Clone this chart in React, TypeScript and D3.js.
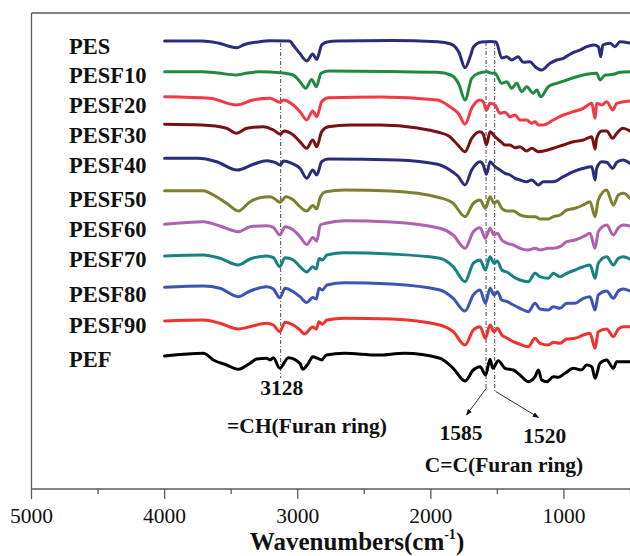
import React from "react";
import * as d3 from "d3";

// FTIR spectra of PES, PESF copolyesters and PEF, vertically offset for display.
// Each series: [wavenumber (cm-1), offset transmittance (a.u.)]
type Pt = [number, number];

const PES: Pt[] = [
  [4000, 448], [3720, 448], [3600, 446], [3460, 441.3], [3400, 444.5], [3300, 447], [3210, 448.3],
  [3060, 448], [3035, 444], [2985, 435.7], [2932, 428], [2887, 435], [2857, 429.5], [2820, 444],
  [2780, 447], [2700, 448], [2300, 448.5], [1950, 447.3], [1850, 445], [1790, 437], [1743, 421.3],
  [1700, 434], [1680, 442], [1620, 447], [1550, 447.5], [1510, 447], [1467, 431], [1430, 432.3],
  [1392, 429], [1345, 432.3], [1305, 426.7], [1255, 427.3], [1217, 422.3], [1167, 419], [1104, 425.7],
  [1054, 429], [1004, 430.7], [942, 435.7], [879, 439], [829, 442.3], [779, 444], [741, 442.3],
  [723, 432.3], [708, 444], [654, 445.7], [616, 442.3], [579, 447.3], [505, 446],
];

const PESF10: Pt[] = [
  [4000, 417.3], [3720, 417.3], [3600, 416], [3460, 414], [3380, 416], [3283, 417.3], [3133, 416.3],
  [3035, 414], [2983, 407.3], [2940, 400.7], [2895, 409.5], [2860, 402.3], [2825, 415.7], [2770, 418],
  [2300, 417.5], [1950, 416.7], [1850, 414], [1790, 405], [1743, 389], [1693, 410.7], [1643, 415.7],
  [1580, 417.3], [1550, 416], [1518, 415.7], [1467, 405.7], [1430, 407.3], [1392, 400.7], [1355, 405.7],
  [1317, 397.3], [1280, 402.3], [1230, 395.7], [1204, 399], [1174, 392.3], [1117, 402.3], [1054, 405.7],
  [979, 409], [904, 412.3], [829, 414.7], [754, 415.7], [729, 409], [690, 414], [629, 414.7],
  [579, 416.7], [505, 417.3],
];

const PESF20: Pt[] = [
  [4000, 392.3], [3660, 390.7], [3460, 384], [3336, 389], [3208, 390.7], [3133, 386.7], [3110, 389],
  [3033, 384], [2983, 377.3], [2932, 369], [2887, 378], [2857, 372.3], [2820, 387.3], [2770, 391.3],
  [2380, 392], [1950, 389], [1857, 382.3], [1790, 375], [1743, 364.7], [1693, 380.7], [1630, 389],
  [1606, 387.3], [1582, 379], [1555, 385.7], [1518, 384], [1480, 375.7], [1443, 376.7], [1405, 372.3],
  [1367, 374], [1330, 369], [1280, 369], [1242, 365.7], [1217, 367.3], [1192, 364], [1155, 364],
  [1080, 369], [1005, 374], [929, 377.3], [854, 380.7], [791, 385.7], [766, 370.7], [754, 385.7],
  [716, 384], [679, 387.3], [633, 379], [603, 385.7], [505, 388],
];

const PESF30: Pt[] = [
  [4000, 364.7], [3720, 364], [3534, 360.7], [3460, 355.7], [3383, 360.7], [3258, 362.3], [3183, 359],
  [3130, 354.7], [3103, 358], [3033, 354], [2983, 347.3], [2932, 340.7], [2887, 349], [2857, 342.3],
  [2820, 357.3], [2770, 362.3], [2607, 364], [2380, 364], [2100, 361], [1950, 357], [1857, 352.3],
  [1797, 344], [1743, 337.3], [1693, 350.7], [1630, 357.3], [1606, 354.7], [1582, 344], [1555, 357.3],
  [1518, 352.3], [1480, 348], [1443, 344], [1405, 344], [1367, 341.3], [1330, 342.3], [1280, 338],
  [1242, 340.7], [1192, 337.3], [1155, 338], [1080, 340.7], [1005, 344], [929, 347.3], [854, 349],
  [791, 352.3], [766, 340], [754, 350.7], [716, 358], [679, 358], [633, 350.7], [603, 355.7],
  [556, 360.7], [505, 358],
];

const PESF40: Pt[] = [
  [4000, 330.7], [3750, 330.7], [3609, 327.3], [3455, 319], [3333, 324.7], [3233, 328.3], [3171, 326.7],
  [3130, 324], [3108, 328], [3045, 325.7], [2983, 320.7], [2932, 310.7], [2887, 319], [2857, 314],
  [2820, 327.3], [2770, 330], [2250, 329], [1950, 324.7], [1857, 319], [1797, 313], [1743, 304],
  [1693, 319], [1630, 327.3], [1606, 324], [1582, 314.7], [1555, 327.3], [1518, 322.3], [1480, 319],
  [1443, 315.7], [1405, 314], [1367, 310.7], [1330, 309], [1280, 307.3], [1242, 309], [1192, 304],
  [1155, 307.3], [1080, 307.3], [1005, 312.3], [929, 317.3], [854, 320.7], [791, 322.3], [766, 309],
  [754, 320.7], [716, 327.3], [679, 326.7], [633, 320.7], [603, 326.7], [556, 329], [505, 325.7],
];

const PESF50: Pt[] = [
  [4000, 298.3], [3709, 298.3], [3634, 294], [3534, 285.7], [3446, 278], [3358, 287.3], [3283, 291.3],
  [3208, 292.3], [3171, 290], [3135, 286.7], [3088, 292.3], [3033, 289], [2983, 282.3], [2932, 278],
  [2887, 283.5], [2857, 280], [2830, 292], [2790, 297.3], [2650, 299], [2300, 298], [1932, 291.3],
  [1832, 285.7], [1743, 272.3], [1681, 285.7], [1630, 289], [1590, 280.7], [1555, 292.3], [1525, 285.7],
  [1500, 288], [1467, 280.7], [1425, 278], [1380, 278], [1330, 274], [1268, 272.3], [1217, 272.3],
  [1180, 270], [1117, 270], [1080, 272.3], [1030, 274], [979, 279], [917, 280.7], [854, 284],
  [804, 287.3], [766, 272.3], [742, 289], [679, 299], [629, 284], [591, 294], [554, 295.7], [505, 290.7],
];

const PESF60: Pt[] = [
  [4000, 264.7], [3709, 267.3], [3584, 263], [3446, 257.3], [3358, 262.3], [3233, 263.3], [3183, 261.7],
  [3135, 254], [3095, 262.3], [3033, 259], [2983, 252.3], [2932, 244.5], [2887, 251.5], [2857, 248],
  [2830, 264], [2790, 265.7], [2650, 268.3], [2300, 267], [1932, 260.7], [1832, 254], [1743, 240.7],
  [1681, 257.3], [1630, 261.3], [1590, 250.7], [1555, 260.7], [1525, 254], [1500, 255.7], [1467, 249],
  [1425, 245.7], [1380, 244], [1330, 240.7], [1268, 239], [1217, 240.7], [1180, 239], [1117, 240.7],
  [1080, 240.7], [1030, 242.3], [979, 247.3], [917, 249], [854, 252.3], [804, 255.7], [766, 240.7],
  [742, 257.3], [679, 264], [629, 254], [591, 261.3], [554, 264], [505, 263],
];

const PESF70: Pt[] = [
  [4000, 233], [3709, 234], [3584, 230.7], [3446, 224], [3358, 230], [3233, 233], [3183, 231.3],
  [3135, 222.3], [3095, 231.3], [3033, 229], [2983, 222.3], [2932, 217], [2887, 222.3], [2860, 220],
  [2840, 230.5], [2815, 229], [2780, 234], [2650, 236.3], [2300, 235], [1932, 230.7], [1832, 222.3],
  [1743, 207.3], [1681, 225.7], [1630, 229], [1590, 219], [1555, 232.3], [1525, 225.7], [1500, 228],
  [1467, 219], [1425, 216.7], [1380, 212.3], [1330, 209], [1268, 207.3], [1217, 215.7], [1180, 212.3],
  [1117, 210.7], [1080, 215.7], [1030, 212.3], [979, 215.7], [917, 219], [854, 222.3], [804, 224],
  [766, 210.7], [742, 225.7], [679, 232.3], [629, 224], [591, 230.7], [554, 232.3], [505, 230],
];

const PESF80: Pt[] = [
  [4000, 201.7], [3709, 203], [3584, 200.7], [3446, 192.3], [3358, 198], [3233, 202.3], [3183, 200],
  [3135, 191.3], [3095, 200.7], [3033, 197.3], [2983, 192.3], [2932, 186.5], [2887, 191.5], [2860, 190],
  [2840, 200.7], [2815, 199], [2780, 204], [2650, 206.3], [2300, 205], [1932, 199], [1832, 190.7],
  [1743, 178], [1681, 194], [1630, 199], [1590, 185.7], [1555, 200.7], [1525, 194], [1500, 197.3],
  [1467, 189], [1425, 187.3], [1380, 184], [1330, 180.7], [1268, 177.3], [1217, 185.7], [1180, 180],
  [1117, 179], [1080, 182.3], [1030, 180.7], [979, 185.7], [917, 185.7], [854, 190.7], [804, 192.3],
  [766, 179], [742, 194], [679, 198], [629, 190.7], [591, 198], [554, 200], [505, 198],
];

const PESF90: Pt[] = [
  [4000, 168], [3709, 169], [3584, 165.7], [3446, 160], [3358, 162.3], [3233, 165.7], [3183, 164],
  [3135, 157.3], [3095, 166.7], [3033, 164], [2983, 159], [2950, 155], [2887, 162], [2860, 160],
  [2840, 167.3], [2815, 164.7], [2780, 169], [2650, 170.7], [2300, 170], [1932, 164], [1832, 157.3],
  [1743, 144], [1681, 159], [1630, 162.3], [1590, 150.7], [1555, 164], [1525, 157.3], [1500, 160.7],
  [1467, 154], [1425, 150.7], [1380, 147.3], [1330, 144.7], [1268, 142.3], [1217, 150.7], [1180, 145.7],
  [1117, 144], [1080, 146.7], [1030, 145.7], [979, 150], [917, 150.7], [854, 154], [804, 155.7],
  [766, 140.7], [742, 157.3], [679, 160], [629, 152.3], [591, 160], [554, 162.3], [505, 162.3],
];

const PEF: Pt[] = [
  [4000, 133], [3709, 135.7], [3634, 129], [3534, 124], [3446, 119.7], [3358, 125.7], [3308, 130],
  [3233, 130.7], [3208, 129], [3183, 131.3], [3135, 120.7], [3070, 131.3], [2983, 125.7], [2962, 119.7],
  [2920, 125.7], [2887, 132.3], [2850, 130.7], [2820, 129], [2785, 134], [2650, 135.7], [2400, 134],
  [2200, 135.7], [1932, 130.7], [1832, 120.7], [1743, 108], [1681, 119], [1630, 122.3], [1588, 114],
  [1555, 129.7], [1535, 120.7], [1493, 128.3], [1443, 120.7], [1380, 119], [1330, 114], [1268, 107.3],
  [1217, 112.3], [1192, 119], [1167, 109], [1129, 107.3], [1080, 112.3], [1042, 111.7], [992, 115.7],
  [929, 120.7], [869, 119], [829, 124], [791, 122.3], [766, 110.7], [729, 125.7], [679, 129],
  [629, 120.7], [603, 127.3], [505, 127.3],
];

const seriesData: Pt[][] = [PES, PESF10, PESF20, PESF30, PESF40, PESF50, PESF60, PESF70, PESF80, PESF90, PEF];
const seriesNames = ["PES", "PESF10", "PESF20", "PESF30", "PESF40", "PESF50", "PESF60", "PESF70", "PESF80", "PESF90", "PEF"];
const seriesColors = ["#2c2c7c", "#1f8a40", "#f23a44", "#7a1014", "#2c2c7c", "#7e7f30", "#b060b0", "#188282", "#3a55b4", "#f0322c", "#000000"];
// Offset transmittance level beside which each name is printed
const labelLevels = [435, 406.3, 376, 346.3, 315.7, 282.3, 252, 222.3, 187.3, 156.3, 122.3];

const majorTicks = [5000, 4000, 3000, 2000, 1000];
const minorTicks = [4500, 3500, 2500, 1500, 500];
const markerWavenumbers = [3128, 1585, 1520];

const W = 630;
const H = 556;

export default function App() {
  const x = d3.scaleLinear().domain([5000, 400]).range([31.5, 643.8]);
  const y = d3.scaleLinear().domain([0, 476]).range([489, 13]);
  const line = d3
    .line<Pt>()
    .x((d) => x(d[0]))
    .y((d) => y(d[1]))
    .curve(d3.curveMonotoneX);

  const serif = "'Liberation Serif', 'Times New Roman', serif";
  const frame = "#5a5a5a";
  const left = x(5000);
  const top = y(476);
  const bottom = y(0);

  return (
    <svg
      width={W}
      height={H}
      viewBox={`0 0 ${W} ${H}`}
      style={{ position: "absolute", left: 0, top: 0, background: "#fff" }}
      fontFamily={serif}
    >
      <defs>
        <marker id="arrowHead" viewBox="0 0 10 10" refX="9" refY="5" markerWidth="7" markerHeight="7" orient="auto-start-reverse">
          <path d="M0,1 L10,5 L0,9 z" fill="#111" />
        </marker>
      </defs>

      {/* frame */}
      <line x1={left} x2={W} y1={top} y2={top} stroke={frame} strokeWidth={1.3} />
      <line x1={left} x2={left} y1={top} y2={bottom} stroke={frame} strokeWidth={1.3} />
      <line x1={left} x2={W} y1={bottom} y2={bottom} stroke={frame} strokeWidth={1.3} />

      {/* ticks */}
      {majorTicks.map((t) => (
        <g key={"M" + t}>
          <line x1={x(t)} x2={x(t)} y1={bottom} y2={bottom + 10} stroke={frame} strokeWidth={1.3} />
          <text x={x(t)} y={523} fontSize={21.5} textAnchor="middle" fill="#111">
            {t}
          </text>
        </g>
      ))}
      {minorTicks.map((t) => (
        <line key={"m" + t} x1={x(t)} x2={x(t)} y1={bottom} y2={bottom + 5} stroke={frame} strokeWidth={1.3} />
      ))}

      <text x={357} y={550} fontSize={25} fontWeight="bold" textAnchor="middle" fill="#111">
        Wavenumbers(cm
        <tspan fontSize={14} dy={-11}>-1</tspan>
        <tspan dy={11}>)</tspan>
      </text>

      {/* marker lines for furan bands */}
      <line x1={x(markerWavenumbers[0])} x2={x(markerWavenumbers[0])} y1={43} y2={378}
        stroke="#333" strokeWidth={0.9} strokeDasharray="4 2 1 2" />
      <line x1={x(markerWavenumbers[1])} x2={x(markerWavenumbers[1])} y1={42} y2={389}
        stroke="#333" strokeWidth={0.9} strokeDasharray="4 2 1 2" />
      <line x1={x(markerWavenumbers[2])} x2={x(markerWavenumbers[2])} y1={42} y2={391}
        stroke="#333" strokeWidth={0.9} strokeDasharray="4 2 1 2" />

      {/* spectra */}
      {seriesData.map((s, i) => (
        <path key={seriesNames[i]} d={line(s) ?? ""} fill="none" stroke={seriesColors[i]} strokeWidth={3}
          strokeLinejoin="round" strokeLinecap="round" />
      ))}

      {/* series names */}
      {seriesNames.map((n, i) => (
        <text key={"l" + n} x={69} y={y(labelLevels[i])} fontSize={22.5} fontWeight="bold" fill="#111">
          {n}
        </text>
      ))}

      {/* annotations */}
      <text x={x(3128) + 1} y={395} fontSize={21.5} fontWeight="bold" textAnchor="middle" fill="#111">3128</text>
      <text x={307} y={433} fontSize={21.5} fontWeight="bold" textAnchor="middle" fill="#111">=CH(Furan ring)</text>
      <text x={461} y={440} fontSize={21.5} fontWeight="bold" textAnchor="middle" fill="#111">1585</text>
      <text x={544.7} y={442.7} fontSize={21.5} fontWeight="bold" textAnchor="middle" fill="#111">1520</text>
      <text x={504} y={471.7} fontSize={21.5} fontWeight="bold" textAnchor="middle" fill="#111">C=C(Furan ring)</text>

      <line x1={x(1585)} y1={388.5} x2={466.5} y2={415} stroke="#111" strokeWidth={0.9} markerEnd="url(#arrowHead)" />
      <line x1={x(1520) + 1} y1={391.5} x2={538.5} y2={417.5} stroke="#111" strokeWidth={0.9} markerEnd="url(#arrowHead)" />
    </svg>
  );
}
